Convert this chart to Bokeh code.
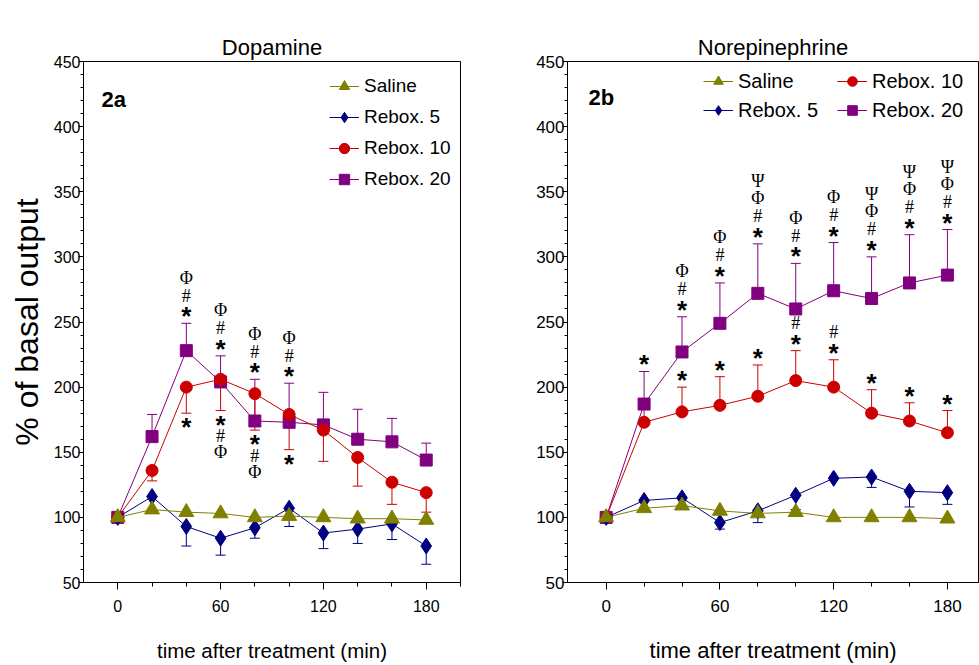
from bokeh.plotting import figure
from bokeh.layouts import row
from bokeh.models import (FixedTicker, Range1d, Whisker, TeeHead, ColumnDataSource,
                          Label, Legend, LegendItem, Title)
from bokeh.core.properties import value
from bokeh.embed import file_html
from bokeh.resources import INLINE

# ---------------- data ----------------
times = [0, 20, 40, 60, 80, 100, 120, 140, 160, 180]
series_names = ["Saline", "Rebox. 5", "Rebox. 10", "Rebox. 20"]
x_ticks = [0, 60, 120, 180]
x_minor = [20, 40, 80, 100, 140, 160, 200]
y_ticks = [50, 100, 150, 200, 250, 300, 350, 400, 450]

# Dopamine (2a)
da_saline = [100, 106, 104, 103, 100, 101, 100, 99, 99, 98]
da_saline_err = [0, 0, 0, 0, 0, 0, 0, 0, 0, 0]
da_rebox5 = [100, 116, 93, 84, 92, 107, 88, 91, 95, 78]
da_rebox5_err = [0, 0, 15, 13, 8, 14, 12, 11, 12, 14]
da_rebox10 = [100, 136, 200, 206, 195, 179, 167, 146, 127, 119]
da_rebox10_err = [0, 8, 20, 24, 28, 27, 24, 22, 17, 15]
da_rebox20 = [100, 162, 228, 204, 174, 173, 171, 160, 158, 144]
da_rebox20_err = [0, 17, 21, 20, 32, 30, 25, 23, 18, 13]
da_err_dir = [1, -1, -1, 1]

da_ann_time = [40, 40, 60, 60, 80, 80, 100, 100]
da_ann_series = ["Rebox. 20", "Rebox. 10", "Rebox. 20", "Rebox. 10",
                 "Rebox. 20", "Rebox. 10", "Rebox. 20", "Rebox. 10"]
da_ann_marks = ["*#Φ", "*", "*#Φ", "*#Φ", "*#Φ", "*#Φ", "*#Φ", "*"]

# Norepinephrine (2b)
ne_saline = [100, 107, 109, 105, 103, 104, 100, 100, 100, 99]
ne_saline_err = [0, 0, 0, 0, 0, 0, 0, 0, 0, 0]
ne_rebox5 = [100, 113, 115, 96, 105, 117, 130, 131, 120, 119]
ne_rebox5_err = [0, 0, 0, 5, 9, 11, 0, 8, 12, 9]
ne_rebox10 = [100, 173, 181, 186, 193, 205, 200, 180, 174, 165]
ne_rebox10_err = [0, 10, 19, 22, 24, 23, 21, 18, 14, 17]
ne_rebox20 = [100, 187, 227, 249, 272, 260, 274, 268, 280, 286]
ne_rebox20_err = [0, 25, 27, 31, 38, 35, 37, 32, 37, 35]
ne_err_dir = [1, -1, 1, 1]

ne_ann_time = [20, 40, 60, 80, 100, 120, 140, 160, 180,
               40, 60, 80, 100, 120, 140, 160, 180]
ne_ann_series = ["Rebox. 20"] * 9 + ["Rebox. 10"] * 8
ne_ann_marks = ["*", "*#Φ", "*#Φ", "*#ΦΨ", "*#Φ", "*#Φ", "*#ΦΨ", "*#ΦΨ", "*#ΦΨ",
                "*", "*", "*", "*#", "*#", "*", "*", "*"]

# ---------------- style ----------------
FONT = "Liberation Sans"
COLORS = {"Saline": "#808000", "Rebox. 5": "#000080",
          "Rebox. 10": "#cc0000", "Rebox. 20": "#800080"}
MARKERS = {"Saline": ("triangle", 15), "Rebox. 5": ("diamond", 16),
           "Rebox. 10": ("circle", 12), "Rebox. 20": ("square", 12)}
DRAW_ORDER = ["Rebox. 20", "Rebox. 10", "Rebox. 5", "Saline"]
# distance (px) of each symbol's centre from the error-bar cap
DIST_UP = {"*": 9.5, "#": 26, "Φ": 44, "Ψ": 61.5}
DIST_DOWN = {"*": 11.5, "#": 27, "Φ": 43, "Ψ": 59}
STAR_SIZE = 26
SERIF_SIZE = 18
STAR_SHIFT = 2.5     # empirical baseline correction (px)
SERIF_SHIFT = -1.5


def make_panel(title, means, errs, dirs, ann_t, ann_s, ann_m, cfg):
    p = figure(width=cfg["width"], height=665, output_backend="svg",
               toolbar_location=None,
               x_range=Range1d(cfg["x0"], cfg["x1"]), y_range=Range1d(50, 450),
               min_border_left=cfg["mbl"], min_border_right=cfg["mbr"],
               min_border_top=cfg["mbt"], min_border_bottom=cfg["mbb"])
    # invisible spacer between the frame and the title (pushes the title upward)
    p.add_layout(Title(text=".", text_font_size="1px", standoff=cfg["spacer"],
                       text_alpha=0, text_color="white"), "above")
    p.title.text = title
    p.title.align = "center"
    p.title.vertical_align = "top"
    p.title.text_font = FONT
    p.title.text_font_size = "22px"
    p.title.text_font_style = "normal"
    p.title.text_color = "black"
    p.title.text_line_height = 1.0
    p.title.standoff = 0
    p.xgrid.visible = False
    p.ygrid.visible = False
    p.outline_line_color = "black"
    p.outline_line_width = 1
    p.background_fill_color = "white"
    p.border_fill_color = "white"

    p.xaxis.ticker = FixedTicker(ticks=x_ticks, minor_ticks=x_minor)
    p.yaxis.ticker = FixedTicker(ticks=y_ticks, minor_ticks=list(range(50, 451, 10)))
    for ax in (p.xaxis, p.yaxis):
        ax.axis_line_color = "black"
        ax.major_tick_line_color = "black"
        ax.minor_tick_line_color = "black"
        ax.major_tick_in = 0
        ax.minor_tick_in = 0
        ax.major_label_text_font = FONT
        ax.major_label_text_font_size = cfg["tick_fs"]
        ax.major_label_text_color = "black"
        ax.axis_label_text_font = FONT
        ax.axis_label_text_font_style = "normal"
        ax.axis_label_text_color = "black"
    p.xaxis.major_tick_out = 7
    p.xaxis.minor_tick_out = 4
    p.xaxis.major_label_standoff = 10
    p.yaxis.major_tick_out = 5
    p.yaxis.minor_tick_out = 3
    p.yaxis.major_label_standoff = -2
    p.xaxis.axis_label = "time after treatment (min)"
    p.xaxis.axis_label_text_font_size = cfg["xlab_fs"]
    p.xaxis.axis_label_standoff = cfg["xlab_stand"]
    if cfg.get("ylabel"):
        p.yaxis.axis_label = cfg["ylabel"]
        p.yaxis.axis_label_text_font_size = "32px"
        p.yaxis.axis_label_standoff = 6

    renderers = {}
    for name in DRAW_ORDER:
        i = series_names.index(name)
        col = COLORS[name]
        m = means[i]
        e = errs[i]
        d = dirs[i]
        bt, lo, hi = [], [], []
        for t, v, ev in zip(times, m, e):
            if ev > 0:
                bt.append(t)
                if d > 0:
                    lo.append(v); hi.append(v + ev)
                else:
                    lo.append(v - ev); hi.append(v)
        if bt:
            wsrc = ColumnDataSource(dict(base=bt, lower=lo, upper=hi))
            head = TeeHead(size=10, line_color=col, line_width=1)
            w = Whisker(source=wsrc, base="base", lower="lower", upper="upper",
                        line_color=col, line_width=1,
                        upper_head=head if d > 0 else None,
                        lower_head=None if d > 0 else head)
            p.add_layout(w)
        src = ColumnDataSource(dict(t=times, v=m))
        lr = p.line("t", "v", source=src, line_color=col, line_width=1)
        mk, sz = MARKERS[name]
        sr = p.scatter("t", "v", source=src, marker=mk, size=sz,
                       fill_color=col, line_color=col)
        renderers[name] = [lr, sr]

    # significance symbols
    star = dict(x=[], y=[], text=[], yoff=[])
    serif = dict(x=[], y=[], text=[], yoff=[])
    for t, s, marks in zip(ann_t, ann_s, ann_m):
        i = series_names.index(s)
        k = times.index(t)
        d = dirs[i]
        cap = means[i][k] + d * errs[i][k]
        for ch in marks:
            dist = -DIST_UP[ch] if d > 0 else DIST_DOWN[ch]
            if ch == "*":
                tgt, yo = star, dist + STAR_SHIFT
            else:
                tgt, yo = serif, dist + SERIF_SHIFT
            tgt["x"].append(t); tgt["y"].append(cap)
            tgt["text"].append(ch); tgt["yoff"].append(yo)
    p.text("x", "y", text="text", y_offset="yoff", source=ColumnDataSource(star),
           text_font=value(FONT), text_font_style="bold",
           text_font_size=f"{STAR_SIZE}px", text_align="center",
           text_baseline="alphabetic", text_color="black")
    p.text("x", "y", text="text", y_offset="yoff", source=ColumnDataSource(serif),
           text_font=value("Liberation Serif"), text_font_style="normal",
           text_font_size=f"{SERIF_SIZE}px", text_align="center",
           text_baseline="alphabetic", text_color="black")

    for names, loc in cfg["legends"]:
        items = [LegendItem(label=n, renderers=renderers[n]) for n in names]
        leg = Legend(items=items, location=loc, orientation="vertical",
                     label_text_font=FONT, label_text_font_size=cfg["leg_fs"],
                     label_text_color="black",
                     glyph_width=30, glyph_height=cfg["leg_h"], label_height=cfg["leg_h"],
                     spacing=5, padding=0, margin=0, label_standoff=5,
                     border_line_alpha=0, background_fill_alpha=0)
        p.add_layout(leg)

    p.add_layout(Label(x=cfg["pl_x"], y=cfg["pl_y"], x_units="screen", y_units="screen",
                       text=cfg["panel"], text_font=FONT, text_font_style="bold",
                       text_font_size="22px", text_baseline="middle", text_color="black"))
    return p


p1 = make_panel("Dopamine",
                [da_saline, da_rebox5, da_rebox10, da_rebox20],
                [da_saline_err, da_rebox5_err, da_rebox10_err, da_rebox20_err],
                da_err_dir, da_ann_time, da_ann_series, da_ann_marks,
                dict(width=492, x0=-20, x1=200, mbl=83, mbr=32, mbt=61, mbb=82,
                     spacer=19,
                     tick_fs="16px", xlab_fs="20.5px", xlab_stand=24,
                     ylabel="% of basal output",
                     legends=[(series_names, (246, 390))], leg_fs="19px", leg_h=26,
                     pl_x=18, pl_y=483, panel="2a"))
p2 = make_panel("Norepinephrine",
                [ne_saline, ne_rebox5, ne_rebox10, ne_rebox20],
                [ne_saline_err, ne_rebox5_err, ne_rebox10_err, ne_rebox20_err],
                ne_err_dir, ne_ann_time, ne_ann_series, ne_ann_marks,
                dict(width=487, x0=-20.4, x1=196.4, mbl=75, mbr=1, mbt=57, mbb=83,
                     spacer=19,
                     tick_fs="17px", xlab_fs="22px", xlab_stand=23,
                     ylabel=None,
                     legends=[(["Saline", "Rebox. 5"], (136, 460)),
                              (["Rebox. 10", "Rebox. 20"], (270, 460))],
                     leg_fs="20px", leg_h=24,
                     pl_x=21, pl_y=485, panel="2b"))

layout = row(p1, p2)
open("out.html", "w").write(file_html(layout, INLINE))
